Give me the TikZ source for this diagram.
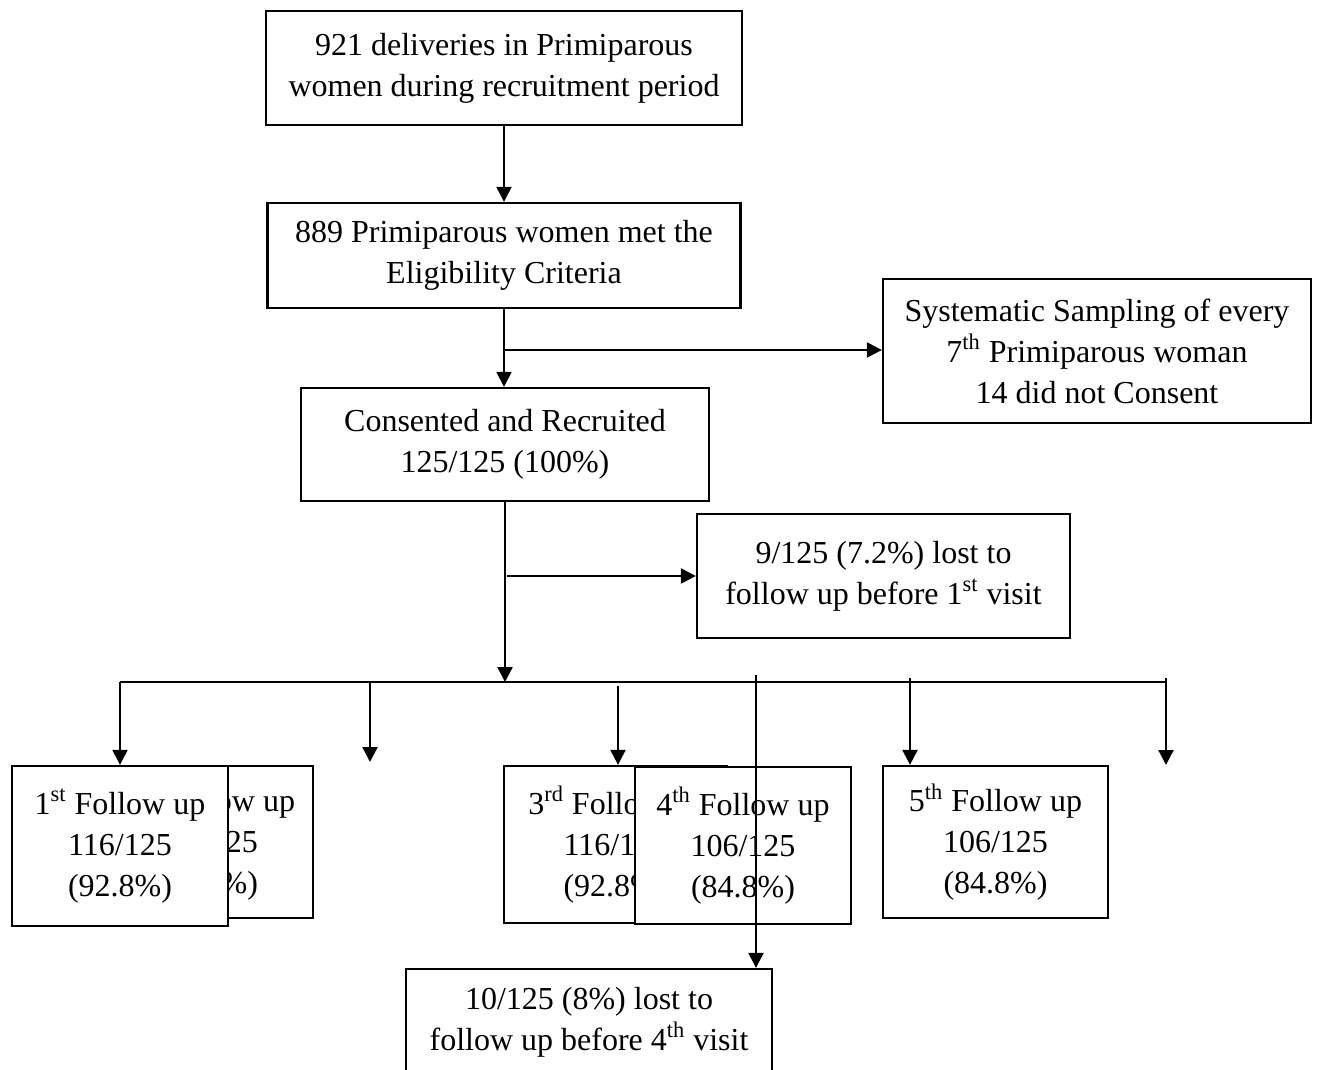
\documentclass[tikz,border=0pt]{standalone}
\usepackage{fontspec}
\setmainfont{Liberation Serif}
\usetikzlibrary{arrows.meta}
\begin{document}
\begin{tikzpicture}[x=0.5pt,y=-0.5pt,
  box/.style={draw, line width=1.15pt, fill=white, align=center, inner sep=0pt,
    font=\fontsize{16}{20.5}\selectfont},
  link/.style={line width=1.15pt},
  arr/.style={link, -{Triangle[width=7.5pt,length=7.5pt]}}]
\useasboundingbox (0,0) rectangle (1318,1070);

% main chain
\node[box, minimum width=238pt, minimum height=57pt] (deliv) at (504,68)
  {921 deliveries in Primiparous\\women during recruitment period};
\node[box, minimum width=236.5pt, minimum height=52.5pt] (elig) at (504,255.5)
  {889 Primiparous women met the\\Eligibility Criteria};
\node[box, minimum width=204pt, minimum height=56.5pt] (recr) at (505,444.5)
  {Consented and Recruited\\125/125 (100\%)};
\node[box, minimum width=214pt, minimum height=72pt] (samp) at (1097,351)
  {Systematic Sampling of every\\7\textsuperscript{th} Primiparous woman\\14 did not Consent};
\node[box, minimum width=186.5pt, minimum height=62pt] (lost1) at (883.5,576)
  {9/125 (7.2\%) lost to\\follow up before 1\textsuperscript{st} visit};

% follow-up visits (later ones overlap earlier ones)
\node[box, minimum width=107pt, minimum height=76pt] (fu2) at (206,842)
  {2\textsuperscript{nd} Follow up\\116/125\\(92.8\%)};
\node[box, minimum width=108pt, minimum height=80pt] (fu1) at (120,846)
  {1\textsuperscript{st} Follow up\\116/125\\(92.8\%)};
\node[box, minimum width=111.5pt, minimum height=78.5pt] (fu3) at (615.5,844.5)
  {3\textsuperscript{rd} Follow up\\116/125\\(92.8\%)};
\node[box, minimum width=108pt, minimum height=78.5pt] (fu4) at (743,845.5)
  {4\textsuperscript{th} Follow up\\106/125\\(84.8\%)};
\node[box, minimum width=112.5pt, minimum height=76pt] (fu5) at (995.5,842)
  {5\textsuperscript{th} Follow up\\106/125\\(84.8\%)};
\node[box, minimum width=183pt, minimum height=53pt] (lost4) at (589,1022)
  {10/125 (8\%) lost to\\follow up before 4\textsuperscript{th} visit};

% branch points and free ends
\coordinate (b1) at (505,350);
\coordinate (b2) at (507,576);
\coordinate (hub) at (507,682);
\coordinate (busL) at (120,682);
\coordinate (busR) at (1166,682);
\coordinate (d2s) at (370,682);
\coordinate (d2e) at (370,762);
\coordinate (d3s) at (618,686);
\coordinate (d4s) at (756,675);
\coordinate (d5s) at (910,678);
\coordinate (d6s) at (1166,678);
\coordinate (d6e) at (1166,765);

% connectors
\draw[arr] (deliv.south) -- (deliv.south |- elig.north);
\draw[arr] (elig.south) -- (elig.south |- recr.north);
\draw[arr] (b1) -- (b1 -| samp.west);
\draw[arr] (recr.south) -- (recr.south |- hub);
\draw[arr] (b2) -- (b2 -| lost1.west);
\draw[link] (busL) -- (busR);
\draw[arr] (busL) -- (fu1.north);
\draw[arr] (d2s) -- (d2e);
\draw[arr] (d3s) -- (d3s |- fu3.north);
\draw[arr] (d5s) -- (d5s |- fu5.north);
\draw[arr] (d6s) -- (d6e);
\draw[arr] (d4s) -- (d4s |- lost4.north);
\end{tikzpicture}
\end{document}
